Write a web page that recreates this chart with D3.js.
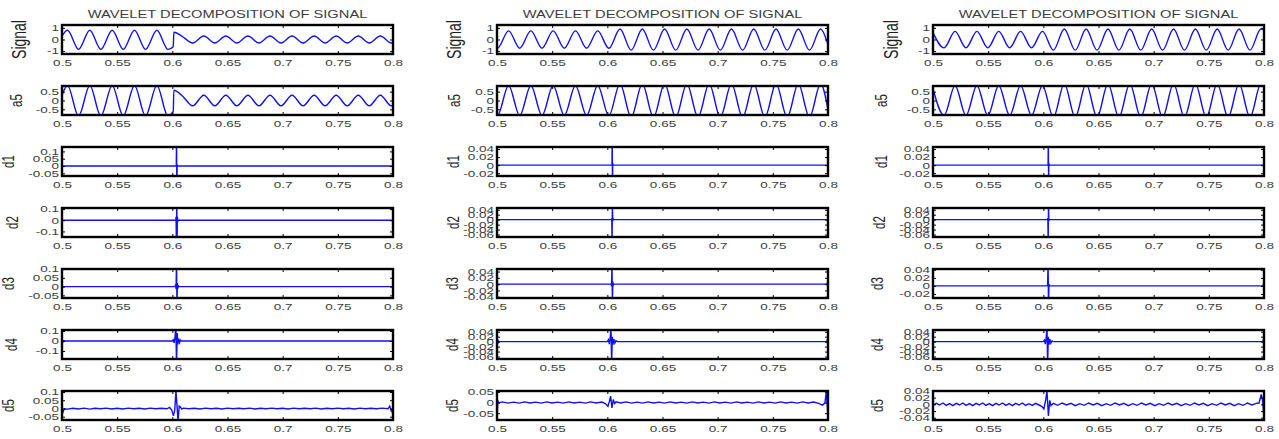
<!DOCTYPE html>
<html>
<head>
<meta charset="utf-8">
<script src="https://cdn.jsdelivr.net/npm/d3@7"></script>
<style>
    body { margin: 0; background: #fff; }
    svg { display: block; font-family: "Liberation Sans", Arial, sans-serif; }
</style>
</head>
<body>
<svg class="main-svg" width="1279" height="439"></svg>
<script>
// ---------------- data ----------------
const titleText = "WAVELET DECOMPOSITION OF SIGNAL";
const rowLabels = ["Signal", "a5", "d1", "d2", "d3", "d4", "d5"];
const xTicks = [0.5, 0.55, 0.6, 0.65, 0.7, 0.75, 0.8];

// signal / approximation: [time, value] of the extrema of the waveform
const sig1 = [[0.5,0.3],[0.505,0.8],[0.515,-0.85],[0.5252,0.8],[0.5352,-0.85],[0.5455,0.8],[0.5555,-0.85],[0.5657,0.8],[0.5757,-0.85],[0.586,0.8],[0.596,-0.85],[0.6008,-0.62],[0.6014,0.62],[0.6085,0.3],[0.6185,-0.3],[0.6285,0.3],[0.6385,-0.3],[0.6485,0.3],[0.6585,-0.3],[0.6685,0.3],[0.6785,-0.3],[0.6885,0.3],[0.6985,-0.3],[0.7085,0.3],[0.7185,-0.3],[0.7285,0.3],[0.7385,-0.3],[0.7485,0.3],[0.7585,-0.3],[0.7685,0.3],[0.7785,-0.3],[0.7885,0.3],[0.7985,-0.3],[0.8,-0.28]];
const a5s1 = [[0.5,0.3],[0.505,0.85],[0.515,-0.88],[0.5252,0.85],[0.5352,-0.88],[0.5455,0.85],[0.5555,-0.88],[0.5657,0.85],[0.5757,-0.88],[0.586,0.85],[0.596,-0.88],[0.6008,-0.62],[0.6014,0.58],[0.6085,0.3],[0.6185,-0.3],[0.6285,0.3],[0.6385,-0.3],[0.6485,0.3],[0.6585,-0.3],[0.6685,0.3],[0.6785,-0.3],[0.6885,0.3],[0.6985,-0.3],[0.7085,0.3],[0.7185,-0.3],[0.7285,0.3],[0.7385,-0.3],[0.7485,0.3],[0.7585,-0.3],[0.7685,0.3],[0.7785,-0.3],[0.7885,0.3],[0.7985,-0.3],[0.8,-0.28]];
const sig2 = [[0.5,-0.72],[0.5004,-0.75],[0.5105,0.74],[0.5206,-0.75],[0.5307,0.74],[0.5408,-0.75],[0.5509,0.74],[0.561,-0.75],[0.5711,0.74],[0.5812,-0.75],[0.5913,0.74],[0.6014,-0.76],[0.6115,0.9],[0.6216,-0.92],[0.6317,0.9],[0.6418,-0.92],[0.6519,0.9],[0.662,-0.92],[0.6721,0.9],[0.6822,-0.92],[0.6923,0.9],[0.7024,-0.92],[0.7125,0.9],[0.7226,-0.92],[0.7327,0.9],[0.7428,-0.92],[0.7529,0.9],[0.763,-0.92],[0.7731,0.9],[0.7832,-0.92],[0.7933,0.9],[0.8,-0.45]];
const a5s2 = [[0.5,-0.8],[0.5004,-0.85],[0.5105,0.85],[0.5206,-0.85],[0.5307,0.85],[0.5408,-0.85],[0.5509,0.85],[0.561,-0.85],[0.5711,0.85],[0.5812,-0.85],[0.5913,0.85],[0.6014,-0.86],[0.6115,0.95],[0.6216,-0.95],[0.6317,0.95],[0.6418,-0.95],[0.6519,0.95],[0.662,-0.95],[0.6721,0.95],[0.6822,-0.95],[0.6923,0.95],[0.7024,-0.95],[0.7125,0.95],[0.7226,-0.95],[0.7327,0.95],[0.7428,-0.95],[0.7529,0.95],[0.763,-0.95],[0.7731,0.95],[0.7832,-0.95],[0.7933,0.95],[0.8,-0.5]];
const sig3 = [[0.5,0.6],[0.51,-0.72],[0.52,0.7],[0.5299,-0.72],[0.5398,0.7],[0.5497,-0.72],[0.5596,0.7],[0.5695,-0.72],[0.5794,0.7],[0.5893,-0.72],[0.5992,0.7],[0.6091,-0.92],[0.619,0.9],[0.6289,-0.92],[0.6388,0.9],[0.6487,-0.92],[0.6586,0.9],[0.6685,-0.92],[0.6784,0.9],[0.6883,-0.92],[0.6982,0.9],[0.7081,-0.92],[0.718,0.9],[0.7279,-0.92],[0.7378,0.9],[0.7477,-0.92],[0.7576,0.9],[0.7675,-0.92],[0.7774,0.9],[0.7873,-0.92],[0.7972,0.9],[0.8,0.8]];
const a5s3 = [[0.5,0.65],[0.51,-0.85],[0.52,0.85],[0.5299,-0.85],[0.5398,0.85],[0.5497,-0.85],[0.5596,0.85],[0.5695,-0.85],[0.5794,0.85],[0.5893,-0.85],[0.5992,0.85],[0.6091,-0.95],[0.619,0.95],[0.6289,-0.95],[0.6388,0.95],[0.6487,-0.95],[0.6586,0.95],[0.6685,-0.95],[0.6784,0.95],[0.6883,-0.95],[0.6982,0.95],[0.7081,-0.95],[0.718,0.95],[0.7279,-0.95],[0.7378,0.95],[0.7477,-0.95],[0.7576,0.95],[0.7675,-0.95],[0.7774,0.95],[0.7873,-0.95],[0.7972,0.95],[0.8,0.85]];

// details, column 1
const d1c1 = [[0.5,0],[0.6036,0],[0.6038,0.2],[0.6041,-0.15],[0.6044,0.01],[0.6047,0],[0.8,0]];
const d2c1 = [[0.5,0],[0.6031,0],[0.6034,0.03],[0.6037,-0.25],[0.604,0.2],[0.6043,-0.2],[0.6046,0.03],[0.605,-0.01],[0.6054,0],[0.8,0]];
const d3c1 = [[0.5,0.004],[0.5006,-0.004],[0.5012,0],[0.6026,0],[0.603,0.012],[0.6034,-0.015],[0.6038,0.15],[0.6042,-0.1],[0.6046,0.02],[0.605,-0.012],[0.6055,0.004],[0.606,0],[0.7994,0],[0.7998,0.006],[0.8,-0.004]];
const d4c1 = [[0.5,0.01],[0.5008,-0.012],[0.5016,0.004],[0.5025,0],[0.6,0],[0.6008,0.012],[0.6016,-0.018],[0.6024,0.03],[0.6032,0.15],[0.6038,-0.25],[0.6044,0.08],[0.605,-0.035],[0.6058,0.025],[0.6066,-0.015],[0.6074,0.008],[0.6084,0],[0.7995,0],[0.8,0.005]];
const d5c1 = [[0.5,0.02],[0.5006,-0.03],[0.5014,-0.012],[0.5022,-0.002],[0.505,-0.004],[0.51,0.001],[0.515,-0.003],[0.52,0.002],[0.525,-0.004],[0.53,0.001],[0.535,-0.002],[0.54,0.002],[0.545,-0.003],[0.55,0.001],[0.555,-0.003],[0.56,0.002],[0.565,-0.002],[0.57,0.001],[0.575,-0.003],[0.58,0.002],[0.585,-0.002],[0.59,0.001],[0.595,-0.002],[0.5975,0.006],[0.5995,-0.01],[0.601,-0.045],[0.6022,-0.01],[0.6033,0.11],[0.6042,0.02],[0.6052,-0.08],[0.6062,0.015],[0.6072,0.01],[0.6085,-0.004],[0.61,0.002],[0.615,-0.002],[0.62,0.001],[0.625,-0.003],[0.63,0.002],[0.635,-0.002],[0.64,0.001],[0.645,-0.003],[0.65,0.002],[0.655,-0.002],[0.66,0.001],[0.665,-0.002],[0.67,0.002],[0.675,-0.003],[0.68,0.001],[0.685,-0.002],[0.69,0.002],[0.695,-0.002],[0.7,0.001],[0.705,-0.003],[0.71,0.002],[0.715,-0.002],[0.72,0.001],[0.725,-0.002],[0.73,0.002],[0.735,-0.003],[0.74,0.001],[0.745,-0.002],[0.75,0.002],[0.755,-0.002],[0.76,0.001],[0.765,-0.003],[0.77,0.002],[0.775,-0.002],[0.78,0.001],[0.785,-0.002],[0.79,0.002],[0.7955,-0.002],[0.797,0.014],[0.7985,-0.016],[0.8,0.004]];

// details, column 2
const d1c2 = [[0.5,0],[0.6042,0],[0.6044,0.06],[0.6047,-0.04],[0.6049,0.004],[0.6052,0],[0.8,0]];
const d2c2 = [[0.5,0],[0.6036,0],[0.604,0.005],[0.6043,-0.09],[0.6046,0.06],[0.6049,-0.006],[0.6053,0.003],[0.6057,0],[0.8,0]];
const d3c2 = [[0.5,0.005],[0.5005,-0.004],[0.501,0],[0.6034,0],[0.6038,-0.006],[0.6042,0.07],[0.6046,-0.06],[0.605,0.008],[0.6054,-0.003],[0.6058,0],[0.7992,0],[0.7996,0.006],[0.8,-0.06]];
const d4c2 = [[0.5,0.012],[0.5006,-0.01],[0.5012,0.004],[0.502,0],[0.6,0],[0.601,0.008],[0.6018,-0.01],[0.6026,0.015],[0.6033,0.06],[0.6039,-0.09],[0.6045,0.02],[0.6051,-0.012],[0.6059,0.01],[0.6068,-0.006],[0.6078,0.004],[0.609,0],[0.799,0],[0.7994,0.01],[0.7998,-0.02],[0.8,0.005]];
const d5c2 = [[0.5,0.015],[0.5003,-0.05],[0.5008,0.01],[0.5014,-0.002],[0.505,0.003],[0.51,-0.003],[0.515,0.002],[0.52,-0.003],[0.525,0.003],[0.53,-0.002],[0.535,0.002],[0.54,-0.003],[0.545,0.003],[0.55,-0.002],[0.555,0.002],[0.56,-0.003],[0.565,0.003],[0.57,-0.002],[0.575,0.002],[0.58,-0.003],[0.585,0.003],[0.59,-0.002],[0.595,0.002],[0.5985,-0.006],[0.6005,-0.018],[0.6018,0.004],[0.603,0.03],[0.6042,-0.025],[0.6054,0.014],[0.6066,-0.004],[0.608,0.003],[0.612,-0.002],[0.617,0.003],[0.622,-0.003],[0.627,0.002],[0.632,-0.003],[0.637,0.003],[0.642,-0.002],[0.647,0.002],[0.652,-0.003],[0.657,0.003],[0.662,-0.002],[0.667,0.002],[0.672,-0.003],[0.677,0.003],[0.682,-0.002],[0.687,0.002],[0.692,-0.003],[0.697,0.003],[0.702,-0.002],[0.707,0.002],[0.712,-0.003],[0.717,0.003],[0.722,-0.002],[0.727,0.002],[0.732,-0.003],[0.737,0.003],[0.742,-0.002],[0.747,0.002],[0.752,-0.003],[0.757,0.003],[0.762,-0.002],[0.767,0.002],[0.772,-0.003],[0.777,0.003],[0.782,-0.002],[0.787,0.002],[0.7915,-0.004],[0.795,-0.012],[0.7972,-0.003],[0.7984,0.05],[0.7993,-0.01],[0.8,-0.08]];

// details, column 3
const d1c3 = [[0.5,0],[0.6043,0],[0.6045,0.06],[0.6048,-0.04],[0.605,0.004],[0.6053,0],[0.8,0]];
const d2c3 = [[0.5,0],[0.6037,0],[0.6041,0.006],[0.6044,-0.09],[0.6047,0.06],[0.605,-0.005],[0.6054,0],[0.7994,0],[0.7998,0.005],[0.8,-0.004]];
const d3c3 = [[0.5,0],[0.6035,0],[0.6039,0.004],[0.6043,0.06],[0.6047,-0.05],[0.6051,0.005],[0.6055,0],[0.7992,0],[0.7996,0.006],[0.8,-0.04]];
const d4c3 = [[0.5,0],[0.6,0],[0.601,0.006],[0.6018,-0.01],[0.6026,0.016],[0.6033,0.06],[0.6039,-0.09],[0.6045,0.02],[0.6051,-0.012],[0.6059,0.01],[0.6068,-0.006],[0.6078,0.003],[0.609,0],[0.799,0],[0.7994,0.008],[0.7998,-0.015],[0.8,0.006]];
const d5c3 = [[0.5,-0.002],[0.503,0.003],[0.506,-0.002],[0.509,0.004],[0.512,-0.003],[0.515,0.002],[0.518,-0.004],[0.521,0.003],[0.524,-0.002],[0.527,0.004],[0.53,-0.003],[0.533,0.002],[0.536,-0.004],[0.539,0.003],[0.542,-0.002],[0.545,0.004],[0.548,-0.003],[0.551,0.002],[0.554,-0.004],[0.557,0.003],[0.56,-0.002],[0.563,0.004],[0.566,-0.003],[0.569,0.002],[0.572,-0.004],[0.575,0.003],[0.578,-0.002],[0.581,0.004],[0.584,-0.003],[0.587,0.002],[0.59,-0.003],[0.593,0.003],[0.596,-0.002],[0.5985,-0.006],[0.6005,-0.014],[0.602,0.01],[0.6033,0.04],[0.6046,-0.035],[0.6058,0.012],[0.607,-0.004],[0.609,0.003],[0.613,-0.003],[0.617,0.004],[0.621,-0.002],[0.625,0.003],[0.629,-0.004],[0.633,0.002],[0.637,-0.003],[0.641,0.004],[0.645,-0.002],[0.649,0.003],[0.653,-0.004],[0.657,0.002],[0.661,-0.003],[0.665,0.004],[0.669,-0.002],[0.673,0.003],[0.677,-0.004],[0.681,0.002],[0.685,-0.003],[0.689,0.004],[0.693,-0.002],[0.697,0.003],[0.701,-0.004],[0.705,0.002],[0.709,-0.003],[0.713,0.004],[0.717,-0.002],[0.721,0.003],[0.725,-0.004],[0.729,0.002],[0.733,-0.003],[0.737,0.004],[0.741,-0.002],[0.745,0.003],[0.749,-0.004],[0.753,0.002],[0.757,-0.003],[0.761,0.004],[0.765,-0.002],[0.769,0.003],[0.773,-0.004],[0.777,0.002],[0.781,-0.003],[0.785,0.004],[0.789,-0.002],[0.793,0.003],[0.7955,0.004],[0.7975,0.03],[0.7988,0.01],[0.7995,-0.02],[0.8,-0.047]];

// y limits and y tick labels for the seven rows of each column
const yLim1 = [[-1.25,1.25],[-0.82,0.82],[-0.068,0.13],[-0.15,0.11],[-0.065,0.1],[-0.18,0.11],[-0.07,0.106]];
const yLim2 = [[-1.25,1.25],[-0.82,0.82],[-0.027,0.045],[-0.07,0.047],[-0.044,0.048],[-0.07,0.047],[-0.082,0.054]];
const yLim3 = [[-1.25,1.25],[-0.82,0.82],[-0.027,0.045],[-0.07,0.047],[-0.03,0.042],[-0.07,0.047],[-0.047,0.04]];
const yTicks1 = [[-1,0,1],[-0.5,0,0.5],[-0.05,0,0.05,0.1],[-0.1,0,0.1],[-0.05,0,0.05,0.1],[-0.1,0,0.1],[-0.05,0,0.05,0.1]];
const yTicks2 = [[-1,0,1],[-0.5,0,0.5],[-0.02,0,0.02,0.04],[-0.06,-0.04,-0.02,0,0.02,0.04],[-0.04,-0.02,0,0.02,0.04],[-0.06,-0.04,-0.02,0,0.02,0.04],[-0.05,0,0.05]];
const yTicks3 = [[-1,0,1],[-0.5,0,0.5],[-0.02,0,0.02,0.04],[-0.06,-0.04,-0.02,0,0.02,0.04],[-0.02,0,0.02,0.04],[-0.06,-0.04,-0.02,0,0.02,0.04],[-0.04,-0.02,0,0.02,0.04]];

// ---------------- layout ----------------
const columns = [
    { left: 62,  series: [sig1, a5s1, d1c1, d2c1, d3c1, d4c1, d5c1], yLim: yLim1, yTicks: yTicks1, labelDx: [-36, -40, -48, -44, -48, -45, -48] },
    { left: 497, series: [sig2, a5s2, d1c2, d2c2, d3c2, d4c2, d5c2], yLim: yLim2, yTicks: yTicks2, labelDx: [-36, -37, -38, -38, -39, -39, -39] },
    { left: 933, series: [sig3, a5s3, d1c3, d2c3, d3c3, d4c3, d5c3], yLim: yLim3, yTicks: yTicks3, labelDx: [-35, -46, -46, -48, -50, -50, -50] }
];
const boxW = 331, boxH = 29, rowTop = 25, rowStep = 61;
const stretch = 1.5;   // the figure was widened, so text is too
const lineColor = "#1010f0";
const textColor = "#3c3c3c";

const svg = d3.select(".main-svg");

columns.forEach(function(col, ci) {
    let xScale = d3.scaleLinear().domain([0.5, 0.8]).range([0, boxW]);

    // Title
    svg.append("text")
        .text(titleText)
        .attr("transform", `translate(${col.left + boxW / 2}, 17.5) scale(1.47,1)`)
        .attr("text-anchor", "middle")
        .attr("font-size", 10)
        .attr("fill", textColor);

    col.series.forEach(function(pts, ri) {
        let top = rowTop + ri * rowStep;
        let g = svg.append("g").attr("transform", `translate(${col.left}, ${top})`);
        let yScale = d3.scaleLinear().domain(col.yLim[ri]).range([boxH, 0]);
        let clipId = `clip-${ci}-${ri}`;

        g.append("clipPath").attr("id", clipId)
            .append("rect").attr("width", boxW).attr("height", boxH);

        let line = d3.line()
            .x(d => xScale(d[0]))
            .y(d => yScale(d[1]))
            .curve(ri < 2 ? d3.curveMonotoneX : d3.curveLinear);

        g.append("path")
            .datum(pts)
            .attr("clip-path", `url(#${clipId})`)
            .attr("fill", "none")
            .attr("stroke", lineColor)
            .attr("stroke-width", 1.4)
            .attr("d", line);

        // Axes: ticks point inward on all four sides
        let xb = g.append("g").attr("class", "x-axis axis")
            .attr("transform", `translate(0, ${boxH})`)
            .call(d3.axisBottom(xScale).tickValues(xTicks).tickSize(-3).tickPadding(5.5).tickFormat(d => String(d)));
        g.append("g")
            .call(d3.axisTop(xScale).tickValues(xTicks).tickSize(-3).tickFormat(""));
        let yl = g.append("g").attr("class", "y-axis axis")
            .call(d3.axisLeft(yScale).tickValues(col.yTicks[ri]).tickSize(-3).tickPadding(2).tickFormat(d => String(d)));
        g.append("g")
            .attr("transform", `translate(${boxW}, 0)`)
            .call(d3.axisRight(yScale).tickValues(col.yTicks[ri]).tickSize(-3).tickFormat(""));

        g.selectAll(".domain").remove();
        g.selectAll(".tick line").attr("stroke", "#000");
        [xb, yl].forEach(function(ax) {
            ax.attr("font-family", null).attr("font-size", 9);
            ax.selectAll("text")
                .attr("fill", textColor)
                .attr("transform", `scale(${stretch},1)`);
        });

        // Box
        g.append("rect")
            .attr("width", boxW)
            .attr("height", boxH)
            .attr("fill", "none")
            .attr("stroke", "#000")
            .attr("stroke-width", 2.4);

        // Row label
        svg.append("text")
            .text(rowLabels[ri])
            .attr("transform", `translate(${col.left + col.labelDx[ri]}, ${top + boxH / 2}) scale(${stretch},1) rotate(-90)`)
            .attr("text-anchor", "middle")
            .attr("font-size", ri === 0 ? 14 : 11.5)
            .attr("fill", "#1e1e1e");
    });
});
</script>
</body>
</html>
